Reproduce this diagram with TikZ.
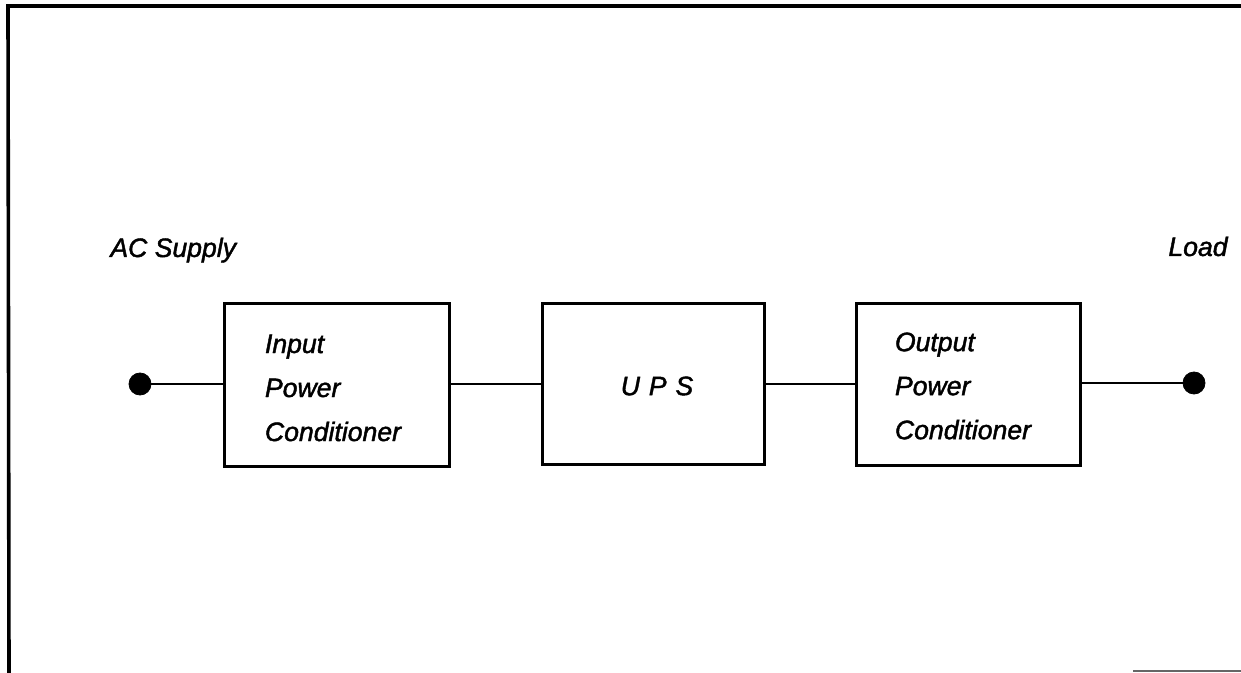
\documentclass[tikz,border=0pt]{standalone}
\usepackage{fontspec}
\setmainfont{Liberation Sans}[ItalicFeatures={FakeBold=1.6}]
\begin{document}
\begin{tikzpicture}[x=0.5pt,y=-0.5pt,
  lbl/.style={font=\fontsize{13.3}{22}\selectfont\itshape, inner sep=0pt},
  block/.style={draw, line width=1.5pt, inner sep=0pt},
  blocktext/.style={align=left, inner sep=0pt,
    font=\fontsize{13.3}{22}\selectfont\itshape},
  terminal/.style={circle, fill=black, draw=black, minimum size=11pt, inner sep=0pt},
  wire/.style={line width=1.2pt},
  frame/.style={line width=1.8pt}]
\useasboundingbox (0,0) rectangle (1241,673);
% frame
\coordinate (ftl) at (8,6);
\coordinate (ftr) at (1241,6);
\coordinate (fbl) at (9,673);
\coordinate (fbr1) at (1133,671);
\coordinate (fbr2) at (1241,671);
\draw[frame] (ftr) -- (ftl) -- (fbl);
\draw[line width=0.8pt, black!60] (fbr1) -- (fbr2);
% labels
\node[lbl, anchor=base west] (ac) at (110,257) {AC Supply};
\node[lbl, anchor=base west] (load) at (1168,256) {Load};
% blocks
\node[block, minimum width=112.5pt, minimum height=81pt] (ipc) at (336.5,385) {};
\node[blocktext] (ipct) at (333,388) {Input\\Power\\Conditioner};
\node[block, minimum width=111pt, minimum height=80pt] (ups) at (653,384) {};
\node[blocktext] (upst) at (657,386) {U\,\,P\,\,S};
\node[block, minimum width=112pt, minimum height=80.5pt] (opc) at (968,384.5) {};
\node[blocktext] (opct) at (963,386) {Output\\Power\\Conditioner};
% terminals
\node[terminal] (tin) at (140,384) {};
\node[terminal] (tout) at (1194,383) {};
% wires
\draw[wire] (tin) -- (tin -| ipc.west);
\draw[wire] (ipc.east |- ups.west) -- (ups.west);
\draw[wire] (ups.east) -- (opc.west |- ups.east);
\draw[wire] (opc.east |- tout) -- (tout);
\end{tikzpicture}
\end{document}
